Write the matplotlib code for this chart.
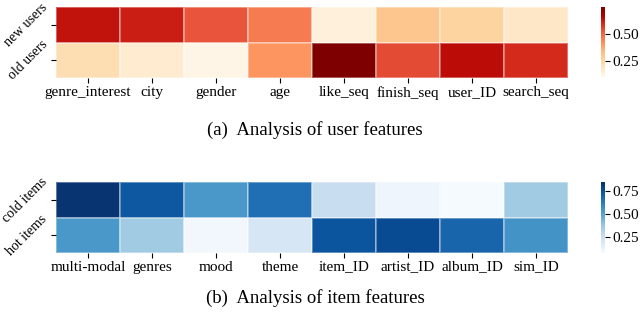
import matplotlib
matplotlib.use("Agg")
import matplotlib.pyplot as plt
import numpy as np

user_features = ["genre_interest", "city", "gender", "age", "like_seq", "finish_seq", "user_ID", "search_seq"]
user_groups = ["new users", "old users"]
new_users = [0.63, 0.61, 0.525, 0.46, 0.145, 0.31, 0.265, 0.19]
old_users = [0.227, 0.17, 0.12, 0.41, 0.74, 0.54, 0.64, 0.59]
user_ticks = [0.25, 0.50]

item_features = ["multi-modal", "genres", "mood", "theme", "item_ID", "artist_ID", "album_ID", "sim_ID"]
item_groups = ["cold items", "hot items"]
cold_items = [0.835, 0.73, 0.54, 0.66, 0.26, 0.115, 0.085, 0.36]
hot_items = [0.54, 0.36, 0.10, 0.20, 0.74, 0.77, 0.69, 0.555]
item_ticks = [0.25, 0.50, 0.75]

plt.rcParams['font.family'] = ['Liberation Serif', 'DejaVu Serif']

fig = plt.figure(figsize=(6.4, 3.15), dpi=100)


def draw(rect, cbrect, data, xlabels, ylabels, cmap, vmin, vmax, ticks, caption, cap_y):
    ax = fig.add_axes(rect)
    arr = np.array(data)
    m = ax.pcolormesh(arr, cmap=cmap, vmin=vmin, vmax=vmax, edgecolors=(1, 1, 1, 0.35), linewidth=0.3)
    ax.set_xlim(0, arr.shape[1])
    ax.set_ylim(arr.shape[0], 0)
    ax.set_xticks(np.arange(arr.shape[1]) + 0.5)
    ax.set_xticklabels(xlabels, fontsize=11)
    ax.set_yticks(np.arange(arr.shape[0]) + 0.5)
    ax.set_yticklabels(ylabels, fontsize=10, rotation=45, ha='right', va='center')
    for s in ax.spines.values():
        s.set_visible(False)
    ax.tick_params(axis='x', length=3.5, width=0.8, pad=2)
    ax.tick_params(axis='y', length=3.5, width=0.8, pad=1)
    cax = fig.add_axes(cbrect)
    cb = fig.colorbar(m, cax=cax)
    cb.outline.set_visible(False)
    cb.set_ticks(ticks)
    cb.ax.set_yticklabels([f"{t:.2f}" for t in ticks], fontsize=11)
    cb.ax.tick_params(length=3.5, width=0.8, pad=2)
    fig.text(rect[0] + rect[2] / 2 + 0.005, cap_y, caption, ha='center', va='center', fontsize=13.5)


draw([0.0875, 0.752, 0.8, 0.225], [0.939, 0.755, 0.006, 0.222],
     [new_users, old_users], user_features, user_groups, 'OrRd', 0.107, 0.74, user_ticks,
     "(a)  Analysis of user features", 1 - 130 / 315)
draw([0.0875, 0.197, 0.8, 0.225], [0.939, 0.197, 0.006, 0.225],
     [cold_items, hot_items], item_features, item_groups, 'Blues', 0.076, 0.85, item_ticks,
     "(b)  Analysis of item features", 1 - 298 / 315)

fig.savefig("out.png", dpi=100)
